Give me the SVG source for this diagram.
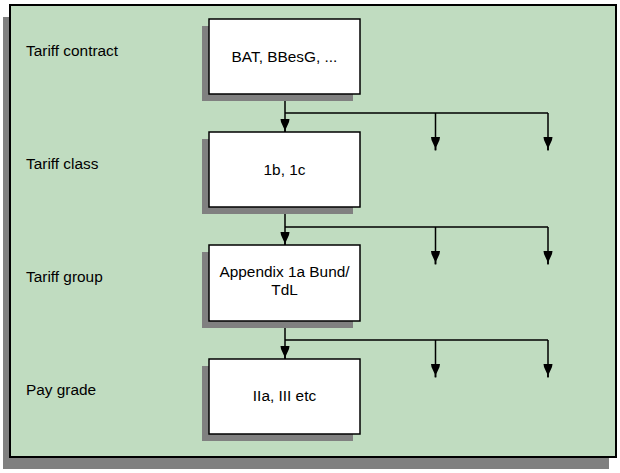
<svg xmlns="http://www.w3.org/2000/svg" width="620" height="473" viewBox="0 0 620 473">
<style>
.shadow{fill:#808080}
.bg{fill:#c0dcc0;stroke:#000;stroke-width:2}
.box{fill:#fff;stroke:#000;stroke-width:1.5}
.t{font-family:"Liberation Sans",Arial,sans-serif;font-size:15.4px;fill:#000}
.c{text-anchor:middle}
.ln{fill:none;stroke:#000;stroke-width:1.5}
</style>
<defs>
<marker id="ah" markerUnits="userSpaceOnUse" markerWidth="12" markerHeight="14" refX="5" refY="13" orient="0" viewBox="0 0 10 14">
<path d="M0.5,0 L9.5,0 L9,3 L5.8,10 L5.8,13.5 L4.2,13.5 L4.2,10 L1,3 Z" fill="#000"/>
</marker>
</defs>
<g id="background">
<rect class="shadow" x="3" y="17" width="606" height="452"/>
<rect class="bg" x="10" y="5" width="606" height="452"/>
</g>
<g id="labels">
<text class="t" x="26" y="56">Tariff contract</text>
<text class="t" x="26" y="169">Tariff class</text>
<text class="t" x="26" y="282">Tariff group</text>
<text class="t" x="26" y="395">Pay grade</text>
</g>
<g id="connectors">
<path class="ln" d="M285,94 V132" marker-end="url(#ah)"/>
<path class="ln" d="M285,113 H548"/>
<path class="ln" d="M435.5,113 V150" marker-end="url(#ah)"/>
<path class="ln" d="M548,113 V150" marker-end="url(#ah)"/>
<path class="ln" d="M285,207 V245" marker-end="url(#ah)"/>
<path class="ln" d="M285,227 H548"/>
<path class="ln" d="M435.5,227 V264" marker-end="url(#ah)"/>
<path class="ln" d="M548,227 V264" marker-end="url(#ah)"/>
<path class="ln" d="M285,321 V359" marker-end="url(#ah)"/>
<path class="ln" d="M285,340 H548"/>
<path class="ln" d="M435.5,340 V377" marker-end="url(#ah)"/>
<path class="ln" d="M548,340 V377" marker-end="url(#ah)"/>
</g>
<g id="node-contract">
<rect class="shadow" x="202" y="26" width="151" height="75"/>
<rect class="box" x="209" y="19" width="151" height="75"/>
<text class="t c" x="284.5" y="62">BAT, BBesG, ...</text>
</g>
<g id="node-class">
<rect class="shadow" x="202" y="139" width="151" height="75"/>
<rect class="box" x="209" y="132" width="151" height="75"/>
<text class="t c" x="284.5" y="175">1b, 1c</text>
</g>
<g id="node-group">
<rect class="shadow" x="202" y="252" width="151" height="76"/>
<rect class="box" x="209" y="245" width="151" height="76"/>
<text class="t c" x="284.5" y="277">Appendix 1a Bund/</text>
<text class="t c" x="284.5" y="295">TdL</text>
</g>
<g id="node-grade">
<rect class="shadow" x="202" y="366" width="151" height="75"/>
<rect class="box" x="209" y="359" width="151" height="75"/>
<text class="t c" x="284.5" y="401">IIa, III etc</text>
</g>
</svg>
